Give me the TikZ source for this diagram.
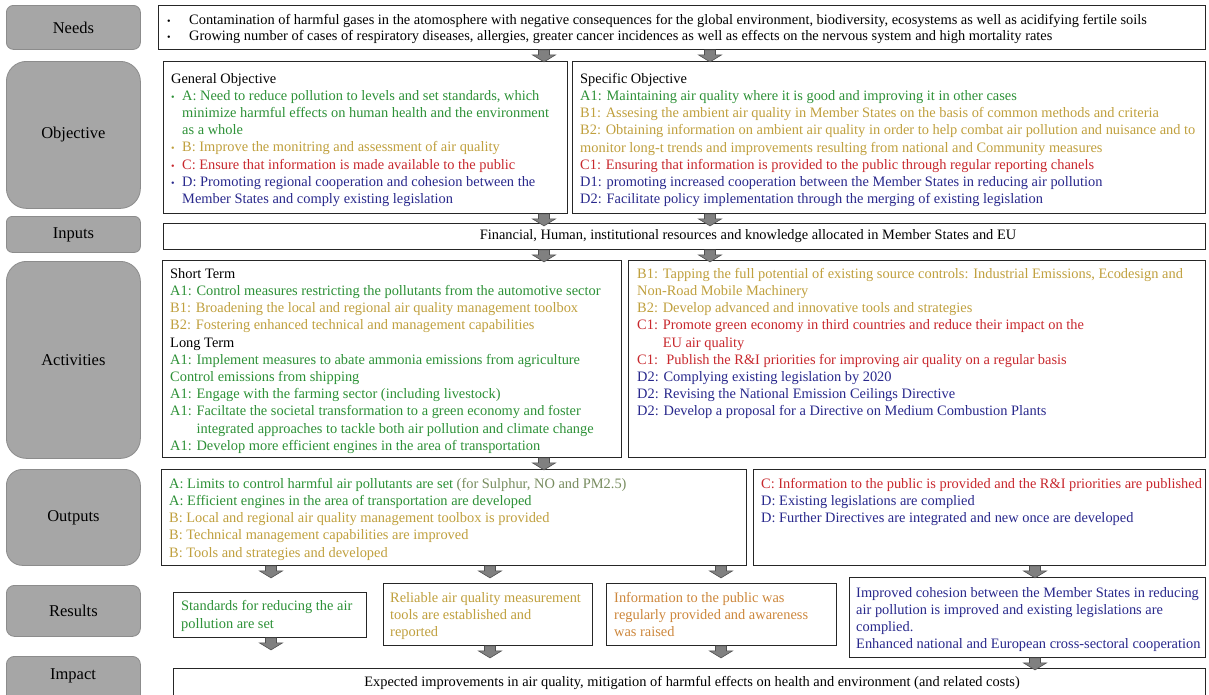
\documentclass[tikz,border=0pt]{standalone}
\usepackage{fontspec}
\setmainfont{Liberation Serif}
\usetikzlibrary{calc}
\definecolor{cgreen}{RGB}{45,145,55}
\definecolor{cgold}{RGB}{192,160,62}
\definecolor{cred}{RGB}{200,40,45}
\definecolor{cblue}{RGB}{40,40,140}
\definecolor{corange}{RGB}{205,135,60}
\definecolor{colive}{RGB}{120,140,95}
\definecolor{labfill}{RGB}{166,166,166}
\definecolor{labborder}{RGB}{140,140,140}
\definecolor{arrfill}{RGB}{128,128,128}
\definecolor{arrdraw}{RGB}{80,80,80}
\newcommand\mybul{\makebox[11pt][l]{\fontsize{10}{10}\selectfont\textbullet}}
\newcommand\mybig{\makebox[22pt][l]{\fontsize{10}{10}\selectfont\textbullet}}
\newcommand\myind{\hspace*{11pt}}
\tikzset{
  x=1pt, y=-1pt,
  lab/.style={draw=labborder, fill=labfill, line width=0.8pt, anchor=north west,
    inner sep=0pt, minimum width=134pt, font=\fontsize{16.5}{20}\selectfont},
  labtext/.style={inner sep=0pt, font=\fontsize{16.5}{20}\selectfont},
  box/.style={draw=black!85, line width=0.9pt, anchor=north west, inner sep=0pt},
  txt/.style={anchor=north west, inner sep=0pt, align=left,
    font=\fontsize{14.4}{17.2}\selectfont},
  ctxt/.style={anchor=center, inner sep=0pt, font=\fontsize{14.4}{17.2}\selectfont},
  dnarrow/.pic={\filldraw[fill=arrfill, draw=arrdraw, line width=0.6pt]
    (-5.5,0) -- (5.5,0) -- (5.5,5) -- (11.5,5) -- (0,12) -- (-11.5,5) -- (-5.5,5) -- cycle;}
}
\begin{document}
\begin{tikzpicture}
\useasboundingbox (0,0) rectangle (1209,694);
\clip (0,0) rectangle (1209,694);
\fill[white] (0,0) rectangle (1209,694);

% ---- left labels ----
\node[lab, minimum height=44pt, rounded corners=7pt] (lneeds) at (6,5) {Needs};
\node[lab, minimum height=147pt, rounded corners=20pt] (lobj) at (6,61) {Objective};
\node[lab, minimum height=36pt, rounded corners=6pt] (linp) at (6,216) {Inputs};
\node[lab, minimum height=197pt, rounded corners=20pt] (lact) at (6,261) {Activities};
\node[lab, minimum height=96pt, rounded corners=16pt] (lout) at (6,469) {Outputs};
\node[lab, minimum height=51pt, rounded corners=8pt] (lres) at (6,585) {Results};
\node[lab, minimum height=56pt, rounded corners=8pt] (limp) at (6,656) {};
\node[labtext] (limpT) at (73,676) {Impact};

% ---- content boxes ----
\node[box, minimum width=1047pt, minimum height=44pt] (needs) at (158,5) {};
\node[box, minimum width=404pt, minimum height=152pt] (genobj) at (163,61) {};
\node[box, minimum width=633pt, minimum height=152pt] (specobj) at (572,61) {};
\node[box, minimum width=1042pt, minimum height=26pt] (inputs) at (163,223) {};
\node[box, minimum width=459pt, minimum height=197pt] (actL) at (162,260) {};
\node[box, minimum width=577pt, minimum height=197pt] (actR) at (628,260) {};
\node[box, minimum width=585pt, minimum height=96pt] (outL) at (161,469) {};
\node[box, minimum width=452pt, minimum height=96pt] (outR) at (753,469) {};
\node[box, minimum width=193pt, minimum height=45pt] (resA) at (173,592) {};
\node[box, minimum width=209pt, minimum height=62pt] (resB) at (383,583) {};
\node[box, minimum width=230pt, minimum height=62pt] (resC) at (606,583) {};
\node[box, minimum width=356pt, minimum height=80pt] (resD) at (849,577) {};
\node[box, minimum width=1032pt, minimum height=50pt] (impact) at (173,668) {};

% ---- texts ----
\node[txt, font=\fontsize{14.4}{16}\selectfont] (needsT) at (167,14) {%
\mybig Contamination of harmful gases in the atomosphere with negative consequences for the global environment, biodiversity, ecosystems as well as acidifying fertile soils\\
\mybig Growing number of cases of respiratory diseases, allergies, greater cancer incidences as well as effects on the nervous system and high mortality rates};

\node[txt] (genT) at (171,73) {%
General Objective\\
\textcolor{cgreen}{\mybul A: Need to reduce pollution to levels and set standards, which}\\
\textcolor{cgreen}{\myind minimize harmful effects on human health and the environment}\\
\textcolor{cgreen}{\myind as a whole}\\
\textcolor{cgold}{\mybul B: Improve the monitring and assessment of air quality}\\
\textcolor{cred}{\mybul C: Ensure that information is made available to the public}\\
\textcolor{cblue}{\mybul D: Promoting regional cooperation and cohesion between the}\\
\textcolor{cblue}{\myind Member States and comply existing legislation}};

\node[txt] (specT) at (580,73) {%
Specific Objective\\
\textcolor{cgreen}{A1: Maintaining air quality where it is good and improving it in other cases}\\
\textcolor{cgold}{B1: Assesing the ambient air quality in Member States on the basis of common methods and criteria}\\
\textcolor{cgold}{B2: Obtaining information on ambient air quality in order to help combat air pollution and nuisance and to}\\
\textcolor{cgold}{monitor long-t trends and improvements resulting from national and Community measures}\\
\textcolor{cred}{C1: Ensuring that information is provided to the public through regular reporting chanels}\\
\textcolor{cblue}{D1: promoting increased cooperation between the Member States in reducing air pollution}\\
\textcolor{cblue}{D2: Facilitate policy implementation through the merging of existing legislation}};

\node[ctxt] (inT) at (748,236) {Financial, Human, institutional resources and knowledge allocated in Member States and EU};

\node[txt] (actLT) at (170,268) {%
Short Term\\
\textcolor{cgreen}{A1: Control measures restricting the pollutants from the automotive sector}\\
\textcolor{cgold}{B1: Broadening the local and regional air quality management toolbox}\\
\textcolor{cgold}{B2: Fostering enhanced technical and management capabilities}\\
Long Term\\
\textcolor{cgreen}{A1: Implement measures to abate ammonia emissions from agriculture}\\
\textcolor{cgreen}{Control emissions from shipping}\\
\textcolor{cgreen}{A1: Engage with the farming sector (including livestock)}\\
\textcolor{cgreen}{A1: Faciltate the societal transformation to a green economy and foster}\\
\textcolor{cgreen}{\hphantom{A1: }integrated approaches to tackle both air pollution and climate change}\\
\textcolor{cgreen}{A1: Develop more efficient engines in the area of transportation}};

\node[txt] (actRT) at (637,268) {%
\textcolor{cgold}{B1: Tapping the full potential of existing source controls: Industrial Emissions, Ecodesign and}\\
\textcolor{cgold}{Non-Road Mobile Machinery}\\
\textcolor{cgold}{B2: Develop advanced and innovative tools and strategies}\\
\textcolor{cred}{C1: Promote green economy in third countries and reduce their impact on the}\\
\textcolor{cred}{\hphantom{C1: }EU air quality}\\
\textcolor{cred}{C1: \ Publish the R\&I priorities for improving air quality on a regular basis}\\
\textcolor{cblue}{D2: Complying existing legislation by 2020}\\
\textcolor{cblue}{D2: Revising the National Emission Ceilings Directive}\\
\textcolor{cblue}{D2: Develop a proposal for a Directive on Medium Combustion Plants}};

\node[txt] (outLT) at (169,478) {%
\textcolor{cgreen}{A: Limits to control harmful air pollutants are set} \textcolor{colive}{(for Sulphur, NO and PM2.5)}\\
\textcolor{cgreen}{A: Efficient engines in the area of transportation are developed}\\
\textcolor{cgold}{B: Local and regional air quality management toolbox is provided}\\
\textcolor{cgold}{B: Technical management capabilities are improved}\\
\textcolor{cgold}{B: Tools and strategies and developed}};

\node[txt] (outRT) at (761,478) {%
\textcolor{cred}{C: Information to the public is provided and the R\&I priorities are published}\\
\textcolor{cblue}{D: Existing legislations are complied}\\
\textcolor{cblue}{D: Further Directives are integrated and new once are developed}};

\node[txt, font=\fontsize{14.4}{18}\selectfont, text=cgreen] (resAT) at (181,600) {%
Standards for reducing the air\\ pollution are set};
\node[txt, text=cgold] (resBT) at (390,592) {%
Reliable air quality measurement\\ tools are established and\\ reported};
\node[txt, text=corange] (resCT) at (614,592) {%
Information to the public was\\ regularly provided and awareness\\ was raised};
\node[txt, text=cblue] (resDT) at (856,587) {%
Improved cohesion between the Member States in reducing\\
air pollution is improved and existing legislations are\\
complied.\\
Enhanced national and European cross-sectoral cooperation};

\node[ctxt] (impT) at (692,683) {Expected improvements in air quality, mitigation of harmful effects on health and environment (and related costs)};

% ---- block arrows ----
\pic at (544,0 |- needs.south) {dnarrow};
\pic at (710,0 |- needs.south) {dnarrow};
\pic at (544,0 |- genobj.south) {dnarrow};
\pic at (710,0 |- specobj.south) {dnarrow};
\pic at (544,0 |- inputs.south) {dnarrow};
\pic at (710,0 |- inputs.south) {dnarrow};
\pic at (544,0 |- actL.south) {dnarrow};
\pic at (271,0 |- outL.south) {dnarrow};
\pic at (490,0 |- outL.south) {dnarrow};
\pic at (721,0 |- outL.south) {dnarrow};
\pic at (1035,0 |- outR.south) {dnarrow};
\pic at (271,0 |- resA.south) {dnarrow};
\pic at (490,0 |- resB.south) {dnarrow};
\pic at (721,0 |- resC.south) {dnarrow};
\pic at (1035,0 |- resD.south) {dnarrow};
\end{tikzpicture}
\end{document}
